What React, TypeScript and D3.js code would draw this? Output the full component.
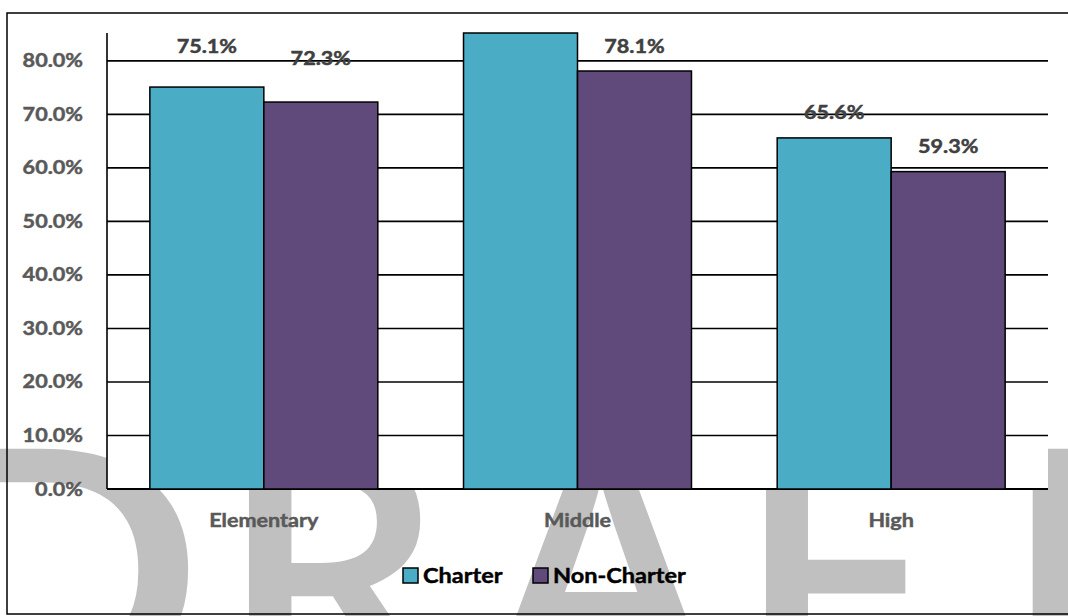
import * as d3 from 'd3';
import { useEffect, useRef } from 'react';

const categories = ['Elementary', 'Middle', 'High'];
const seriesNames = ['Charter', 'Non-Charter'];
const charterValues = [75.1, 86.4, 65.6];
const nonCharterValues = [72.3, 78.1, 59.3];
const yTicks = [0, 10, 20, 30, 40, 50, 60, 70, 80];
const yMax = 85.2;

const colors = ['#4BACC6', '#604A7B'];
const FONT = "Lato, 'Open Sans', sans-serif";
const SX = 1.2; // the reference is stretched sideways

// how far above the bar top each data label sits, per category
const labelLift: Record<string, number[]> = {
  Elementary: [34, 37],
  Middle: [18.5, 18.5],
  High: [18.5, 18.5],
};

const watermark = [
  { ch: 'D', x: -86, anchor: 'start', sx: 1.18 },
  { ch: 'R', x: 215, anchor: 'start', sx: 1.05 },
  { ch: 'A', x: 601, anchor: 'middle', sx: 1.0 },
  { ch: 'F', x: 732, anchor: 'start', sx: 1.05 },
  { ch: 'T', x: 1054, anchor: 'middle', sx: 1.05 },
];

const App = (): React.ReactElement => {
  const ref: any = useRef();
  const width = 1068;
  const height = 616;
  const left = 107;
  const right = 1048;
  const top = 33;
  const bottom = 489;

  useEffect(() => {
    const svg = d3.select(ref.current).attr('width', width).attr('height', height);
    svg.selectAll('*').remove();

    const rows = categories.map((c, i) => ({
      category: c,
      values: [charterValues[i], nonCharterValues[i]],
    }));

    const x0 = d3.scaleBand().domain(categories).range([left, right]).padding(0);
    const x1 = d3
      .scaleBand()
      .domain(seriesNames)
      .range([0, x0.bandwidth()])
      .paddingInner(0)
      .paddingOuter(0.376);
    const y = d3.scaleLinear().domain([0, yMax]).range([bottom, top]);

    const addText = (
      g: any,
      tx: number,
      ty: number,
      txt: string,
      size: number,
      color: string,
      anchor: string,
      weight: string | number = 'bold',
      family = FONT,
      sx = SX,
      thicken = 0.45,
    ) =>
      g
        .append('text')
        .attr('transform', 'translate(' + tx + ',' + ty + ') scale(' + sx + ',1)')
        .attr('text-anchor', anchor)
        .attr('font-family', family)
        .attr('font-weight', weight)
        .attr('font-size', size)
        .attr('fill', color)
        .attr('stroke', thicken > 0 ? color : 'none')
        .attr('stroke-width', thicken)
        .text(txt);

    // watermark behind everything
    const wm = svg.append('g');
    watermark.forEach((w) => {
      addText(wm, w.x, 695, w.ch, 345, '#c0c0c0', w.anchor, 600, "'Open Sans', sans-serif", w.sx, 0);
    });

    // outer frame
    svg
      .append('rect')
      .attr('x', 7)
      .attr('y', 13)
      .attr('width', 1100)
      .attr('height', 601)
      .attr('fill', 'none')
      .attr('stroke', '#000')
      .attr('stroke-width', 1.5);

    // plot area
    svg
      .append('rect')
      .attr('x', left)
      .attr('y', top)
      .attr('width', right - left)
      .attr('height', bottom - top)
      .attr('fill', '#fff');

    svg
      .append('g')
      .selectAll('line')
      .data(yTicks)
      .enter()
      .append('line')
      .attr('x1', left)
      .attr('x2', right)
      .attr('y1', (d) => y(d))
      .attr('y2', (d) => y(d))
      .attr('stroke', '#000')
      .attr('stroke-width', (d) => (d === 0 ? 2 : 1.6));

    svg
      .append('line')
      .attr('x1', left)
      .attr('x2', left)
      .attr('y1', top)
      .attr('y2', bottom)
      .attr('stroke', '#000')
      .attr('stroke-width', 1.6);

    const yl = svg.append('g');
    yTicks.forEach((t) => {
      addText(yl, 83, y(t) + 6.5, t.toFixed(1) + '%', 18, '#595959', 'end');
    });

    // bars
    const groups = svg
      .append('g')
      .selectAll('g')
      .data(rows)
      .enter()
      .append('g')
      .attr('transform', (d) => 'translate(' + (x0(d.category) ?? 0) + ',0)');

    groups
      .selectAll('rect')
      .data((d) => d.values.map((v, i) => ({ name: seriesNames[i], v, i })))
      .enter()
      .append('rect')
      .attr('x', (d) => x1(d.name) ?? 0)
      .attr('y', (d) => y(Math.min(d.v, yMax)))
      .attr('width', x1.bandwidth())
      .attr('height', (d) => bottom - y(Math.min(d.v, yMax)))
      .attr('fill', (d) => colors[d.i])
      .attr('stroke', '#000')
      .attr('stroke-width', 1.5);

    // data labels (the one above the axis top is hidden, as in the source)
    const dl = svg.append('g');
    rows.forEach((r) => {
      r.values.forEach((v, i) => {
        if (v > yMax) return;
        const cx = (x0(r.category) ?? 0) + (x1(seriesNames[i]) ?? 0) + x1.bandwidth() / 2;
        addText(dl, cx, y(v) - labelLift[r.category][i], v.toFixed(1) + '%', 18, '#404040', 'middle');
      });
    });

    // category labels
    const xl = svg.append('g');
    categories.forEach((c) => {
      addText(xl, (x0(c) ?? 0) + x0.bandwidth() / 2, 527, c, 18, '#595959', 'middle');
    });

    // legend
    const lg = svg.append('g');
    const legendX = [403, 533];
    seriesNames.forEach((s, i) => {
      lg.append('rect')
        .attr('x', legendX[i])
        .attr('y', 568)
        .attr('width', 15)
        .attr('height', 15)
        .attr('fill', colors[i])
        .attr('stroke', '#000')
        .attr('stroke-width', 1.5);
      addText(lg, legendX[i] + 20, 583, s, 21, '#000', 'start', 'bold', FONT, 1.12);
    });
  }, []);

  return <svg ref={ref} style={{ position: 'absolute', left: 0, top: 0, display: 'block' }} />;
};

export default App;
